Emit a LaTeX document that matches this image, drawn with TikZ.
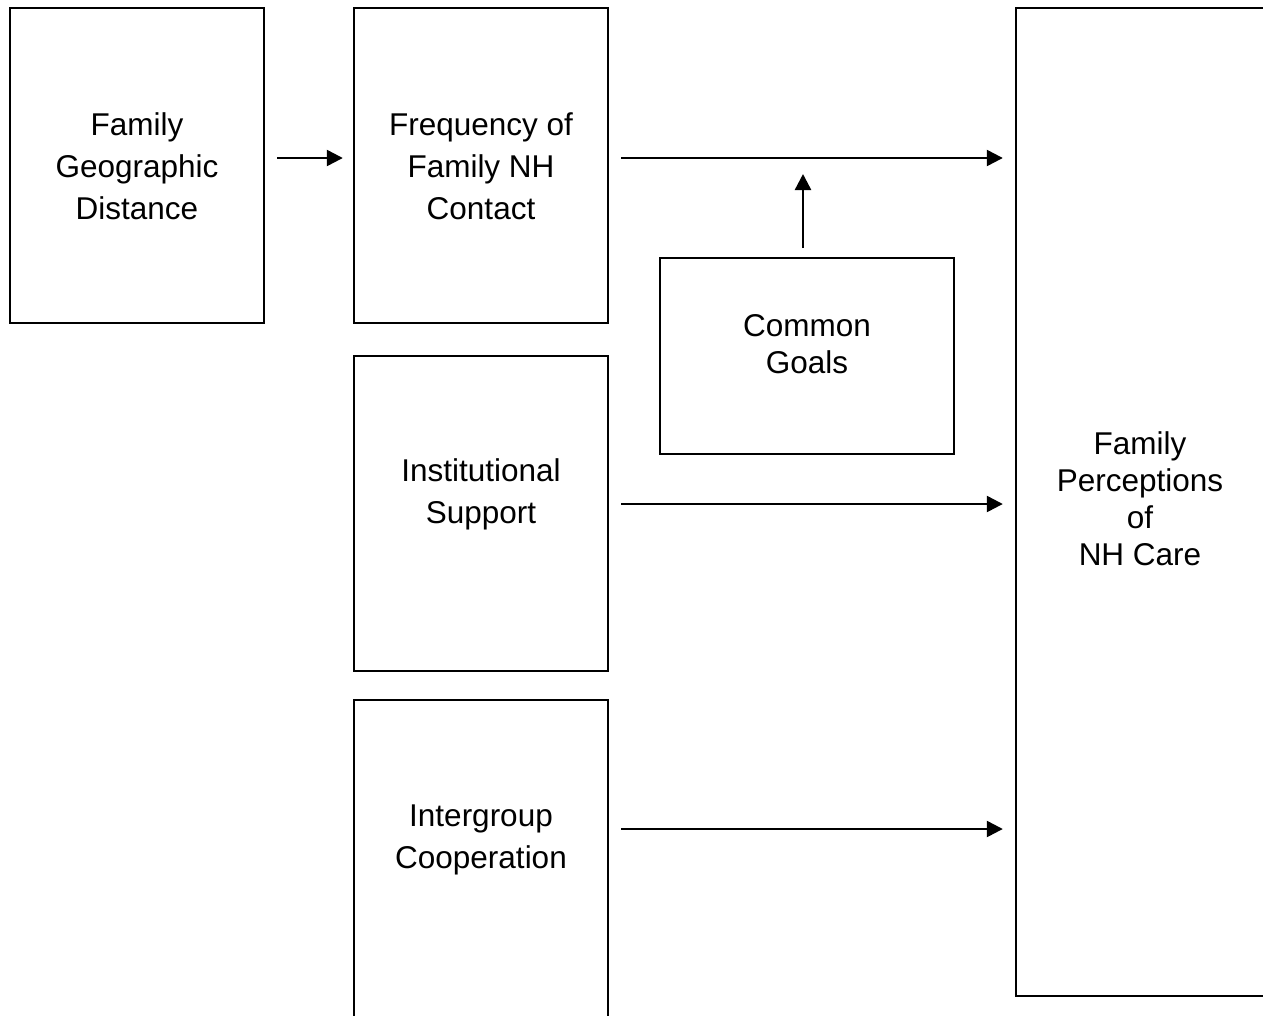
\documentclass[tikz,border=0pt]{standalone}
\usepackage{fontspec}
\setmainfont{Liberation Sans}
\usetikzlibrary{arrows.meta}
\tikzset{
  box/.style={draw=black, line width=2.4pt, inner sep=0pt},
  txt/.style={align=center, inner sep=0pt},
  wide/.style={font=\fontsize{31.5}{42}\selectfont},
  tight/.style={font=\fontsize{31.5}{37}\selectfont},
  arr/.style={line width=2.4pt, -{Triangle[length=16pt,width=16pt]}}
}
\begin{document}
\begin{tikzpicture}[x=1pt,y=-1pt]
\useasboundingbox (0,0) rectangle (1263,1015);
\clip (0,0) rectangle (1263,1015);
% boxes
\node[box, minimum width=254pt, minimum height=315pt] (a) at (137,165.5) {};
\node[box, minimum width=254pt, minimum height=315pt] (b) at (481,165.5) {};
\node[box, minimum width=254pt, minimum height=315pt] (c) at (481,513.5) {};
\node[box, minimum width=254pt, minimum height=340pt] (d) at (481,870) {};
\node[box, minimum width=294pt, minimum height=196pt] (e) at (807,356) {};
\node[box, minimum width=270pt, minimum height=988pt] (f) at (1151,502) {};
% texts
\node[txt, wide] (at) at (137,166) {Family\\Geographic\\Distance};
\node[txt, wide] (bt) at (481,166) {Frequency of\\Family NH\\Contact};
\node[txt, wide] (ct) at (481,494) {Institutional\\Support};
\node[txt, wide] (dt) at (481,840) {Intergroup\\Cooperation};
\node[txt, tight] (et) at (807,344) {Common\\Goals};
\node[txt, tight] (ft) at (1140,499) {Family\\Perceptions\\of\\NH Care};
% arrows
\coordinate (a1) at (277,158);
\coordinate (b1) at (621,158);
\coordinate (c1) at (621,504);
\coordinate (d1) at (621,829);
\coordinate (e1) at (803,248);
\draw[arr] (a1) -- ([xshift=-10pt]b.west |- a1);
\draw[arr] (b1) -- ([xshift=-12pt]f.west |- b1);
\draw[arr] (c1) -- ([xshift=-12pt]f.west |- c1);
\draw[arr] (d1) -- ([xshift=-12pt]f.west |- d1);
\draw[arr] (e1) -- (803,174);
\end{tikzpicture}
\end{document}
